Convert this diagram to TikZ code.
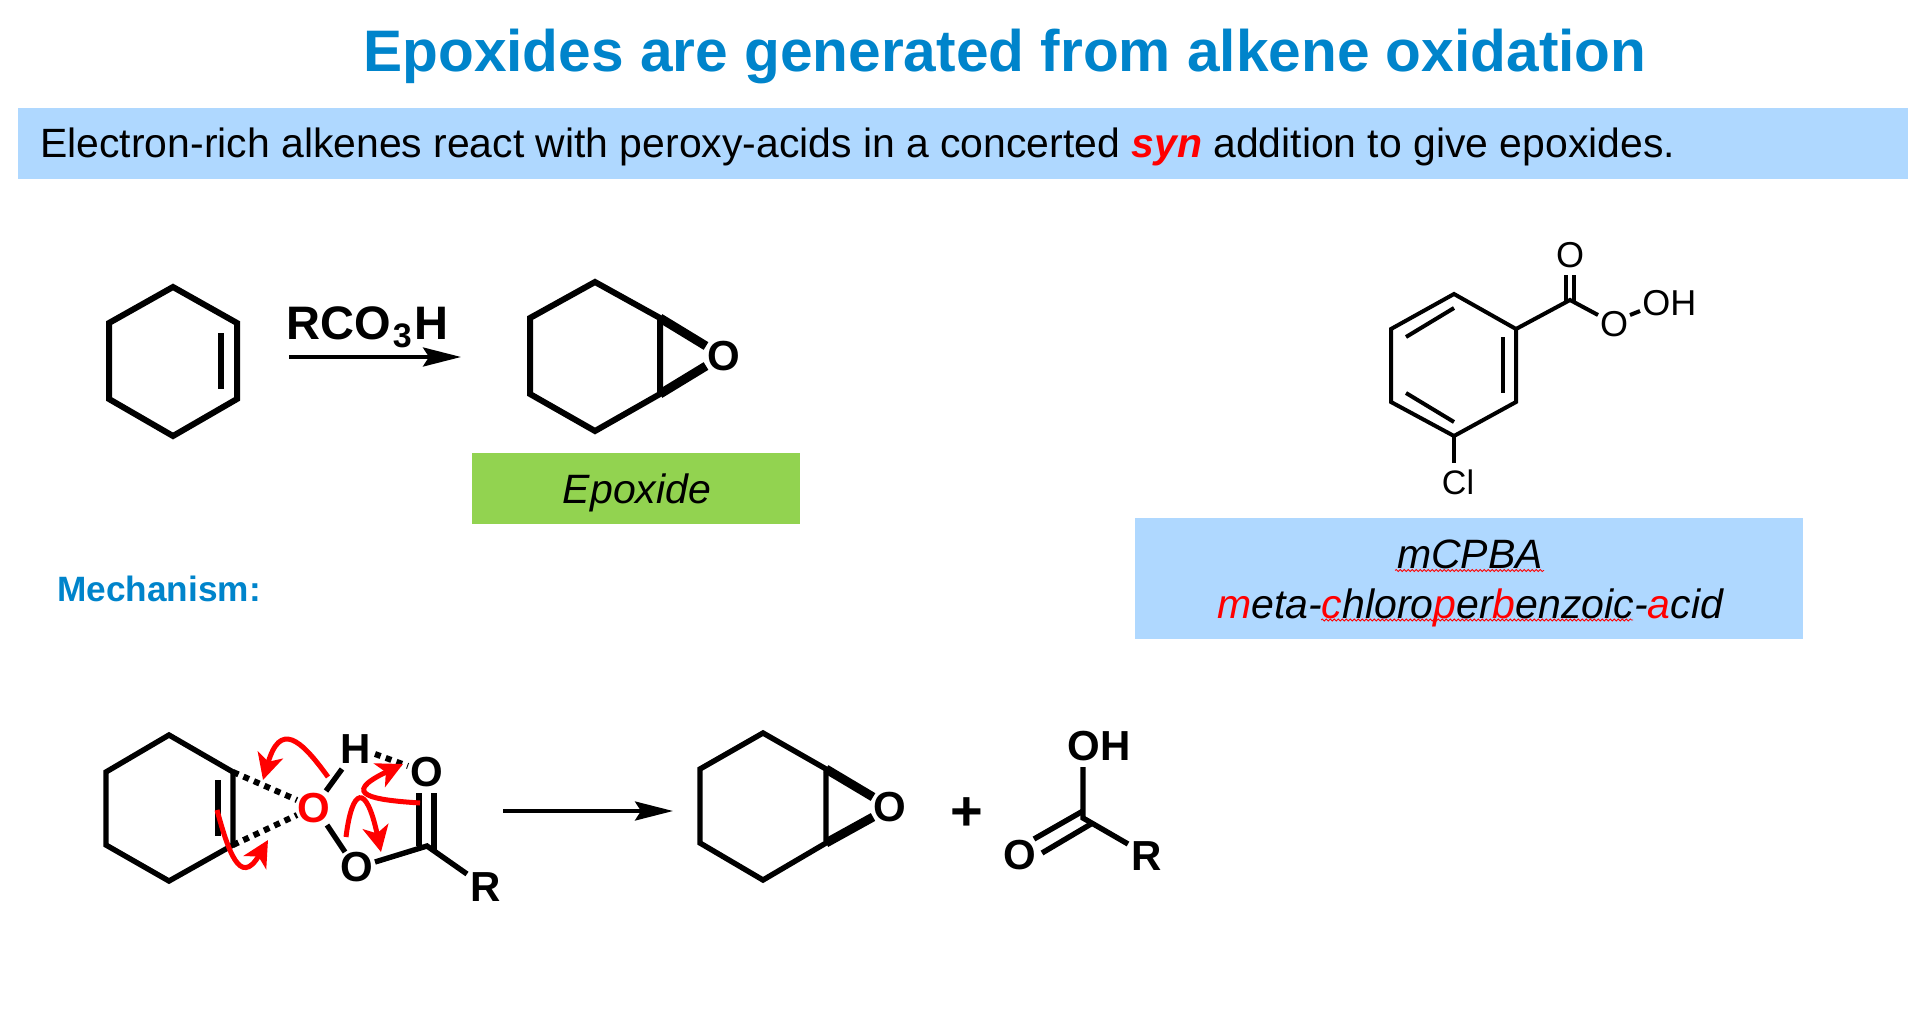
\documentclass[tikz,border=0pt]{standalone}
\usepackage{fontspec}
\setmainfont{Liberation Sans}
\usetikzlibrary{arrows.meta,decorations.pathmorphing}
\definecolor{titleblue}{HTML}{0084CB}
\definecolor{barblue}{HTML}{AFD8FF}
\definecolor{boxgreen}{HTML}{92D350}
\newcommand{\fsz}[1]{\fontsize{#1}{#1}\selectfont}
\tikzset{
  bond/.style={line width=2.7pt},
  thickbond/.style={line width=3pt},
  thinbond/.style={line width=2pt},
  wedgebond/.style={line width=4.5pt},
  hbond/.style={line width=3pt,dash pattern=on 3pt off 2.7pt},
  rxnarrow/.style={line width=1.8pt,-{Stealth[length=19pt,width=9.5pt,inset=3pt]}},
  pusharrow/.style={red,line width=2.5pt,-{Stealth[length=13pt,width=13pt,inset=3.5pt]}},
  atom/.style={inner sep=0pt,font=\fsz{21}\bfseries},
  atomthin/.style={inner sep=0pt,font=\fsz{18}},
  squiggle/.style={red,line width=.4pt,decorate,decoration={snake,amplitude=.5pt,segment length=2pt}}
}
\begin{document}
\begin{tikzpicture}[x=.5pt,y=-.5pt]
\useasboundingbox (0,0) rectangle (1926,1016);

% header
\node[inner sep=0pt,anchor=base west,text=titleblue,font=\fsz{29.3}\bfseries] (title) at (363,72) {Epoxides are generated from alkene oxidation};
\fill[barblue] (18,108) rectangle (1908,179);
\node[inner sep=0pt,anchor=base west,font=\fsz{20.45}] (intro) at (40,158) {Electron-rich alkenes react with peroxy-acids in a concerted \textcolor{red}{\bfseries\itshape syn} addition to give epoxides.};

% alkene
\coordinate (a1) at (173,287);
\coordinate (a2) at (237,323);
\coordinate (a3) at (237,399);
\coordinate (a4) at (173,436);
\coordinate (a5) at (109,399);
\coordinate (a6) at (109,323);
\draw[thickbond] (a1)--(a2)--(a3)--(a4)--(a5)--(a6)--cycle;
\draw[thickbond] (221,333)--(221,389);

% reagent
\coordinate (r1) at (289,357);
\coordinate (r2) at (461,357);
\draw[rxnarrow] (r1)--(r2);
\node[inner sep=0pt,anchor=base west,font=\fsz{23.5}\bfseries] (rco) at (286,339) {RCO\kern1pt\raisebox{-4pt}{\fsz{17}3}\kern1.5ptH};

% epoxide
\coordinate (b1) at (595,282);
\coordinate (b2) at (660,318);
\coordinate (b3) at (660,394);
\coordinate (b4) at (595,431);
\coordinate (b5) at (530,394);
\coordinate (b6) at (530,318);
\node[atom] (bo) at (724,356) {O};
\draw[thickbond] (b1)--(b2)--(b3)--(b4)--(b5)--(b6)--cycle;
\draw[wedgebond] (b2)--(706,346);
\draw[wedgebond] (b3)--(706,366);

\fill[boxgreen] (472,453) rectangle (800,524);
\node[inner sep=0pt,anchor=base,font=\fsz{20.5}\itshape] (epox) at (637,503) {Epoxide};

% mCPBA
\coordinate (c1) at (1454,294);
\coordinate (c2) at (1516,329);
\coordinate (c3) at (1516,402);
\coordinate (c4) at (1454,436);
\coordinate (c5) at (1391,402);
\coordinate (c6) at (1391,329);
\coordinate (cc) at (1570,300);
\node[atomthin] (co) at (1570,255) {O};
\node[atomthin] (coo) at (1614,324) {O};
\node[atomthin,anchor=west] (coh) at (1642,303) {OH};
\node[atomthin,font=\fsz{17}] (ccl) at (1458,482) {Cl};
\draw[thinbond] (c1)--(c2)--(c3)--(c4)--(c5)--(c6)--cycle;
\draw[thinbond] (1503,337)--(1503,393);
\draw[thinbond] (1406,337)--(1454,308);
\draw[thinbond] (1406,393)--(1454,422);
\draw[thinbond] (c2)--(cc)--(1598,315);
\draw[thinbond] (1566,275)--(1566,302);
\draw[thinbond] (1574,275)--(1574,302);
\draw[thinbond] (1630,315)--(1640,311);
\draw[thinbond] (c4)--(1454,463);

\fill[barblue] (1135,518) rectangle (1803,639);
\node[inner sep=0pt,anchor=base,font=\fsz{20.5}\itshape] (abbr) at (1470,568) {mCPBA};
\node[inner sep=0pt,anchor=base,font=\fsz{20.5}\itshape] (full) at (1470,618) {\textcolor{red}{m}eta-\textcolor{red}{c}hloro\textcolor{red}{p}er\textcolor{red}{b}enzoic-\textcolor{red}{a}cid};
\draw[squiggle] (1395,570.5)--(1544,570.5);
\draw[squiggle] (1321,620)--(1633,620);

\node[inner sep=0pt,anchor=base west,text=titleblue,font=\fsz{17.6}\bfseries] (mech) at (57,601) {Mechanism:};

% mechanism, left
\coordinate (d1) at (169,735);
\coordinate (d2) at (233,772);
\coordinate (d3) at (233,845);
\coordinate (d4) at (169,881);
\coordinate (d5) at (106,845);
\coordinate (d6) at (106,772);
\coordinate (dc) at (427,846);
\node[atom,text=red] (o1) at (314,808) {O};
\node[atom] (h1) at (356,749) {H};
\node[atom] (o2) at (427,772) {O};
\node[atom] (o3) at (357,867) {O};
\node[atom] (r1a) at (486,887) {R};
\draw[bond] (d1)--(d2)--(d3)--(d4)--(d5)--(d6)--cycle;
\draw[bond] (218,780)--(218,836);
\draw[hbond] (d2)--(297,800);
\draw[hbond] (d3)--(297,815);
\draw[hbond] (375,754)--(408,766);
\draw[bond] (326,791)--(342,769);
\draw[bond] (327,825)--(345,852);
\draw[bond] (375,862)--(dc)--(467,874);
\draw[bond] (419,793)--(419,846);
\draw[bond] (434,793)--(434,850);

\draw[pusharrow] (328,777) .. controls (300,738) and (280,722) .. (263,780);
\draw[pusharrow] (420,803) .. controls (374,800) and (338,795) .. (403,764);
\draw[pusharrow] (346,837) .. controls (352,788) and (366,782) .. (381,852);
\draw[pusharrow] (217,810) .. controls (228,850) and (240,888) .. (268,840);

\coordinate (r3) at (503,811);
\coordinate (r4) at (673,811);
\draw[rxnarrow] (r3)--(r4);

% mechanism, right
\coordinate (e1) at (763,733);
\coordinate (e2) at (826,769);
\coordinate (e3) at (826,843);
\coordinate (e4) at (763,880);
\coordinate (e5) at (700,843);
\coordinate (e6) at (700,769);
\node[atom] (eo) at (890,807) {O};
\draw[bond] (e1)--(e2)--(e3)--(e4)--(e5)--(e6)--cycle;
\draw[wedgebond] (e2)--(873,797);
\draw[wedgebond] (e3)--(873,817);

\node[inner sep=0pt,font=\fsz{28}\bfseries] (plus) at (967,814) {+};

\coordinate (fc) at (1083,818);
\node[atom,anchor=west] (foh) at (1067,746) {OH};
\node[atom] (fo) at (1020,855) {O};
\node[atom] (fr) at (1147,856) {R};
\draw[bond] (1083,767)--(fc)--(1128,844);
\draw[bond] (1083,811)--(1034,839);
\draw[bond] (1091,824)--(1042,853);

\end{tikzpicture}
\end{document}
